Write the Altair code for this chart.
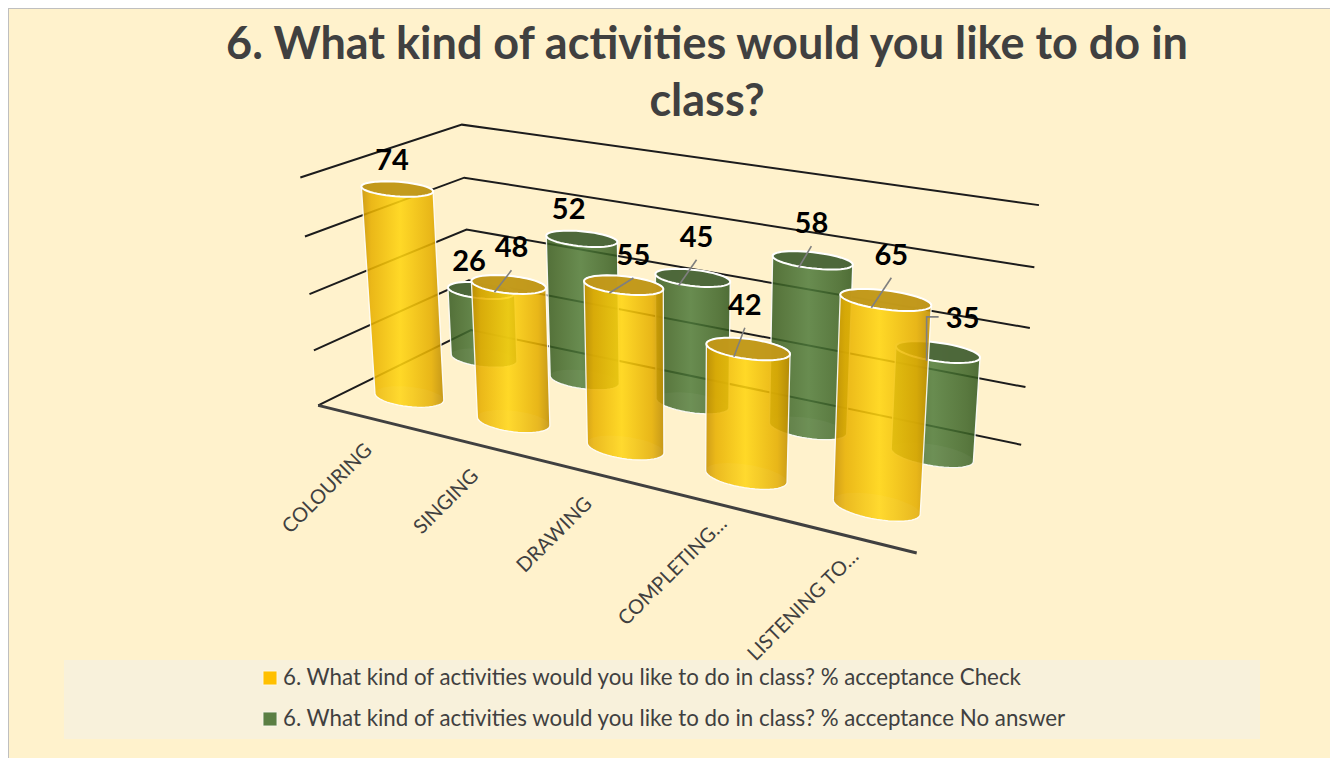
import altair as alt
import numpy as np
import pandas as pd

# ---- chart values -------------------------------------------------------
categories = ["COLOURING", "SINGING", "DRAWING", "COMPLETING…", "LISTENING TO…"]
check_values = [74, 48, 55, 42, 65]
no_answer_values = [26, 52, 45, 58, 35]
axis_levels = [0, 20, 40, 60, 80]
title_lines = ["6. What kind of activities would you like to do in", "class?"]
legend_labels = [
    "6. What  kind of activities would you like to do in class? % acceptance Check",
    "6. What  kind of activities would you like to do in class? % acceptance No answer",
]

# ---- layout of the labels (pixel offsets from the top of each column) ---
check_label_offset = [(-5, -28), (3, -36), (10, -29), (-3, -43), (6, -44)]
no_answer_label_offset = [(-12, -28), (-13, -29), (4, -40), (-1, -36), (25, -33)]
check_leader = [False, True, True, True, True]
no_answer_leader = [False, False, True, True, False]
category_label_offset = [(-41, 71), (-28, 58), (-34, 63), (-39, 69), (-42, 70)]

W, H = 1322, 750
CREAM = "#FFF2CC"
FONT = "Lato"

# ---- perspective camera fitted to the wall/floor corners of the picture --
cam_world = [(0, 1, 80), (0, 1, 60), (0, 1, 40), (0, 1, 20), (0, 1, 0),
             (0, 0, 80), (0, 0, 60), (0, 0, 40), (0, 0, 20), (0, 0, 0),
             (1, 1, 80), (1, 1, 60), (1, 1, 40), (1, 1, 20), (1, 1, 0),
             (1, 0, 0)]
cam_image = [(462.3, 124.3), (464, 177.7), (466, 230), (468.5, 280), (472, 330),
             (300.7, 177.7), (305, 236.7), (309.3, 294.3), (313.3, 350.7), (318.3, 405),
             (1039, 205), (1034.3, 267.3), (1030, 327.7), (1025.3, 387.3), (1021, 445.3),
             (917, 552.7)]
A, b = [], []
for (u, v, z), (px, py) in zip(cam_world, cam_image):
    A.append([u, v, z / 80, 1, 0, 0, 0, 0, -px * u, -px * v, -px * z / 80])
    b.append(px)
    A.append([0, 0, 0, 0, u, v, z / 80, 1, -py * u, -py * v, -py * z / 80])
    b.append(py)
sol = np.linalg.lstsq(np.array(A), np.array(b), rcond=None)[0]
P = np.append(sol, 1).reshape(3, 4)


def project(u, v, z):
    h = P @ np.array([u, v, z / 80, 1.0])
    return h[0] / h[2], h[1] / h[2]


RU, RV = 0.062, 0.092
ROW_V = {"check": 0.25, "none": 0.75}
TS = np.linspace(0, 2 * np.pi, 49)[:-1]


def circle(i, row, z):
    cu, cv = (i + 0.5) / len(categories), ROW_V[row]
    return [project(cu + RU * np.cos(t), cv + RV * np.sin(t), z) for t in TS]


def hull(points):
    pts = sorted(set(points))

    def half(seq):
        out = []
        for p in seq:
            while len(out) > 1 and (out[-1][0] - out[-2][0]) * (p[1] - out[-2][1]) - (out[-1][1] - out[-2][1]) * (p[0] - out[-2][0]) <= 0:
                out.pop()
            out.append(p)
        return out[:-1]

    return half(pts) + half(pts[::-1])


def closed_table(rows):
    out = []
    for key, pts in rows:
        pts = list(pts) + [pts[0]]
        out += [{"k": key, "o": n, "x": p[0], "y": p[1]} for n, p in enumerate(pts)]
    return pd.DataFrame(out)


def tables(values, row):
    body, top, base = [], [], []
    for i, val in enumerate(values):
        c_top, c_base = circle(i, row, val), circle(i, row, 0)
        body.append((i, hull(c_top + c_base)))
        top.append((i, c_top))
        base.append((i, c_base))
    return closed_table(body), closed_table(top), closed_table(base)


xs = alt.Scale(domain=[8, 8 + W], range=[0, W], nice=False, zero=False)
ys = alt.Scale(domain=[8, 8 + H], range=[0, H], nice=False, zero=False)
X = alt.X("x:Q", scale=xs, axis=None)
Y = alt.Y("y:Q", scale=ys, axis=None)


def poly(df, **mark):
    return alt.Chart(df).mark_line(**mark).encode(x=X, y=Y, detail="k:N", order="o:Q")


def grad(c):
    return alt.Gradient(gradient="linear", x1=0, x2=1, y1=0, y2=0,
                        stops=[alt.GradientStop(color=col, offset=off) for off, col in c])


yellow = grad([(0, "#C89200"), (0.12, "#E8B000"), (0.47, "#FFD510"), (0.85, "#E5AE00"), (1, "#BE8C00")])
green = grad([(0, "#34591F"), (0.15, "#3E6427"), (0.47, "#4E7A3A"), (0.85, "#3C6326"), (1, "#30561C")])


def columns(values, row, fill, top_color, op):
    body, top, base = tables(values, row)
    return [
        poly(body, filled=True, fill=fill, fillOpacity=op, stroke="#FFFFFF", strokeWidth=1.3, strokeOpacity=0.9),
        poly(base, filled=True, fill="#FFFFFF", fillOpacity=0.04, strokeOpacity=0, stroke="#FFFFFF"),
        poly(top, filled=True, fill=top_color, fillOpacity=0.92, stroke="#FFFFFF", strokeWidth=2),
    ]


# ---- walls and floor ----------------------------------------------------
grid_rows = []
for z in axis_levels:
    pts = [project(0, 0, z), project(0, 1, z), project(1, 1, z)]
    grid_rows += [{"k": z, "o": n, "x": p[0], "y": p[1]} for n, p in enumerate(pts)]
grid = poly(pd.DataFrame(grid_rows), color="#1C1C1C", strokeWidth=2)
front_pts = [project(0, 0, 0), project(1, 0, 0)]
front = poly(pd.DataFrame([{"k": 0, "o": n, "x": p[0], "y": p[1]} for n, p in enumerate(front_pts)]),
             color="#404040", strokeWidth=3)

# ---- data labels and leader lines ---------------------------------------
label_rows, leader_rows = [], []
for row, values, offsets, leaders in [("none", no_answer_values, no_answer_label_offset, no_answer_leader),
                                      ("check", check_values, check_label_offset, check_leader)]:
    for i, val in enumerate(values):
        cx, cy = project((i + 0.5) / len(categories), ROW_V[row], val)
        lx, ly = cx + offsets[i][0], cy + offsets[i][1]
        label_rows.append({"x": lx, "y": ly, "t": str(val)})
        key = f"{row}{i}"
        if leaders[i]:
            line = [(lx, ly + 22), (cx - 14, cy + 8)]
        elif row == "none" and val == 35:
            line = [(lx - 24, ly - 2), (lx - 36, ly - 2), (cx - 11, cy + 9)]
        else:
            line = []
        leader_rows += [{"k": key, "o": n, "x": p[0], "y": p[1]} for n, p in enumerate(line)]
leaders_chart = poly(pd.DataFrame(leader_rows), color="#7F7F7F", strokeWidth=1.6)
data_labels = alt.Chart(pd.DataFrame(label_rows)).mark_text(
    font=FONT, fontWeight="bold", fontSize=29, color="#000000", baseline="middle", align="center"
).encode(x=X, y=Y, text="t:N")

# ---- category labels ----------------------------------------------------
cat_rows = []
for i, c in enumerate(categories):
    px, py = project((i + 0.5) / len(categories), 0, 0)
    cat_rows.append({"x": px + category_label_offset[i][0], "y": py + category_label_offset[i][1], "t": c})
cat_labels = alt.Chart(pd.DataFrame(cat_rows)).mark_text(
    font=FONT, fontSize=20, color="#404040", angle=315, align="center", baseline="middle"
).encode(x=X, y=Y, text="t:N")

# ---- title --------------------------------------------------------------
title_df = pd.DataFrame({"x": [707, 707], "y": [45, 102], "t": title_lines})
title = alt.Chart(title_df).mark_text(
    font=FONT, fontWeight="bold", fontSize=45, color="#404040", align="center", baseline="middle"
).encode(x=X, y=Y, text="t:N")

# ---- legend --------------------------------------------------------------
legend_box = alt.Chart(pd.DataFrame({"x": [64], "x2": [1260], "y": [660], "y2": [739]})).mark_rect(
    color="#F8F1DB"
).encode(x=X, x2="x2:Q", y=Y, y2="y2:Q")
legend_df = pd.DataFrame({"x": [270, 270], "y": [678, 719], "t": legend_labels, "c": ["#FFC000", "#5B7F43"]})
legend_sym = alt.Chart(legend_df).mark_square(size=190, filled=True, opacity=1, stroke="#FFFFFF", strokeWidth=0.6).encode(
    x=X, y=Y, color=alt.Color("c:N", scale=None))
legend_txt = alt.Chart(legend_df.assign(x=283)).mark_text(
    font=FONT, fontSize=22.3, color="#404040", align="left", baseline="middle"
).encode(x=X, y=Y, text="t:N")

border = alt.Chart(pd.DataFrame({"x": [8], "x2": [1340], "y": [8], "y2": [800]})).mark_rect(
    fill=CREAM, stroke="#BFBFBF", strokeWidth=2
).encode(x=X, x2="x2:Q", y=Y, y2="y2:Q")

layers = [border, legend_box, grid, front]
layers += columns(no_answer_values, "none", green, "#4C6639", 0.85)
layers += columns(check_values, "check", yellow, "#BE961C", 0.88)
layers += [leaders_chart, data_labels, cat_labels, title, legend_sym, legend_txt]

chart = alt.layer(*layers).properties(
    width=W, height=H, padding=0, autosize=alt.AutoSizeParams(type="none"), background=CREAM
).configure_view(stroke=None)

chart.save("out.html", embed_options={"renderer": "svg", "actions": False})
